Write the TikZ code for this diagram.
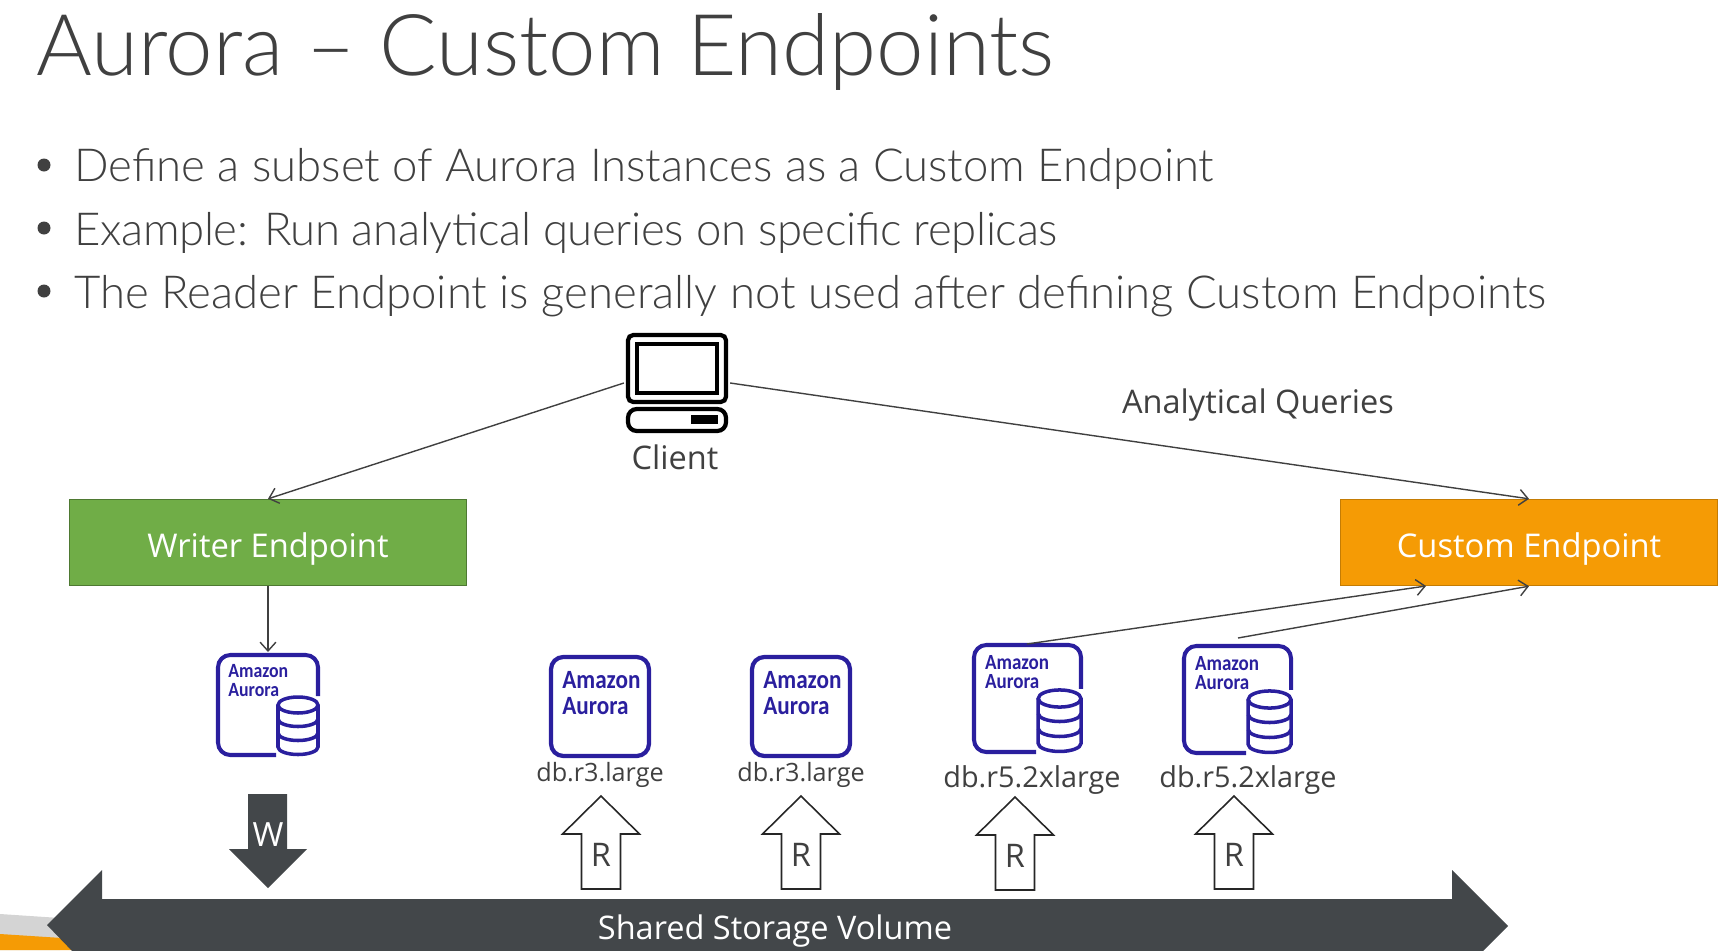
\documentclass[tikz,border=0pt]{standalone}
\usepackage{xcolor}
\usepackage{fontspec}
\usepackage{tikz}
\usetikzlibrary{arrows.meta}
\usetikzlibrary{calc}
\setmainfont{Open Sans}
\newfontfamily\titlefont{Lato Light}
\newfontfamily\iconfont[FakeStretch=0.88]{Carlito}
\definecolor{textgrey}{HTML}{404040}
\definecolor{darkslate}{HTML}{43474A}
\definecolor{writergreen}{HTML}{70AD47}
\definecolor{customorange}{HTML}{F59B05}
\definecolor{auroranavy}{HTML}{2A1F9E}
\tikzset{
    conn/.style={draw=textgrey, line width=0.8pt, -{Straight Barb[length=5pt,width=9pt]}},
    endpoint/.style={minimum height=87*0.5669pt, inner sep=0pt, text=white, text height=18.5pt, text depth=2pt, font=\fontsize{18.6}{22}\selectfont},
    dblabel/.style={anchor=base, text=textgrey, font=\fontsize{14.35}{17}\selectfont},
    dblabelbig/.style={anchor=base, text=textgrey, font=\fontsize{16.4}{19}\selectfont},
    sidelabel/.style={anchor=base, text=textgrey, font=\fontsize{18.5}{22}\selectfont},
    bullet/.style={anchor=base west, inner sep=0pt, text=textgrey, font=\titlefont\fontsize{25.9}{31}\selectfont},
    icontext/.style={anchor=north west, align=left, inner sep=0pt, text=auroranavy, transform shape, font=\iconfont\bfseries},
    pics/auroraplain/.style={code={
        \draw[auroranavy, line width=2.4pt, rounded corners=7pt] (0,0) rectangle (98,99);
        \node[icontext, font=\iconfont\bfseries\fontsize{15}{15}\selectfont] at (11,14) {Amazon\\Aurora};
    }},
    pics/aurorasmall/.style={code={
        \draw[auroranavy, line width=2.3pt, rounded corners=7pt] (58,100) -- (0,100) -- (0,0) -- (100,0) -- (100,41);
        \node[icontext, font=\iconfont\bfseries\fontsize{11.5}{10.6}\selectfont] at (10,9) {Amazon\\Aurora};
        % the little database
        \filldraw[fill=white, draw=auroranavy, line width=2pt] (60,50) -- (60,92) arc[start angle=180, end angle=0, x radius=20, y radius=7.5] -- (100,50);
        \filldraw[fill=white, draw=auroranavy, line width=2pt] (80,50) ellipse [x radius=20, y radius=8];
        \draw[auroranavy, line width=2pt] (60,64) arc[start angle=180, end angle=0, x radius=20, y radius=7.5];
        \draw[auroranavy, line width=2pt] (60,78) arc[start angle=180, end angle=0, x radius=20, y radius=7.5];
    }},
    pics/readarrow/.style={code={
        \draw[fill=white, draw=black!85, line width=0.9pt] (0,0) -- (38.5,38) -- (19.5,38) -- (19.5,93) -- (-19.5,93) -- (-19.5,38) -- (-38.5,38) -- cycle;
        \node[anchor=base, text=textgrey, font=\fontsize{18.5}{22}\selectfont] at (0,70) {R};
    }}
}

\begin{document}
\begin{tikzpicture}[x=0.02cm, y=-0.02cm]
    \useasboundingbox (0,0) rectangle (1723,950);
    \clip (0,0) rectangle (1723,950);

    % Title and bullets
    \node[anchor=base west, text=textgrey, font=\titlefont\fontsize{48.5}{56}\selectfont, inner sep=0pt] (title) at (36,75) {Aurora – Custom Endpoints};
    \fill[textgrey] (44,165) circle (6.5) (44,228) circle (6.5) (44,291) circle (6.5);
    \node[bullet] (lineone) at (74,181) {Define a subset of Aurora Instances as a Custom Endpoint};
    \node[bullet] (linetwo) at (74,245) {\addfontfeature{LetterSpace=-0.8}Example: Run analytical queries on specific replicas};
    \node[bullet] (linethree) at (74,308) {The Reader Endpoint is generally not used after defining Custom Endpoints};

    % Corner of the slide
    \fill[black!17] (0,914) -- (60,918) -- (60,950) -- (0,950) -- cycle;
    \fill[customorange] (0,934) -- (62,938) -- (80,950) -- (0,950) -- cycle;

    % Client
    \node[minimum width=106*0.5669pt, minimum height=98*0.5669pt, inner sep=0pt] (client) at (677,383) {};
    \draw[black, line width=2.4pt, rounded corners=3pt] (628,335) rectangle (726,402);
    \draw[black, line width=1.9pt] (637,344) rectangle (717,393);
    \draw[black, line width=2.4pt, rounded corners=5pt] (628,409) rectangle (726,431);
    \fill[black] (691,415) rectangle (718,424);
    \node[sidelabel] (clientlabel) at (675,469) {Client};
    \node[sidelabel] (querieslabel) at (1258,413) {Analytical Queries};

    % Endpoints
    \node[endpoint, minimum width=398*0.5669pt, fill=writergreen, draw=writergreen!70!black] (writer) at (268,542.5) {Writer Endpoint};
    \node[endpoint, minimum width=378*0.5669pt, fill=customorange, draw=customorange!80!black] (custom) at (1529,542.5) {Custom Endpoint};
    \coordinate (customin) at (1426,586);

    % Instances
    \pic at (218,655) {aurorasmall};
    \pic at (551,657) {auroraplain};
    \pic at (752,657) {auroraplain};
    \pic[scale=1.07] at (974,645) {aurorasmall};
    \pic[scale=1.07] at (1184,646) {aurorasmall};
    \coordinate (auroraw) at (268,652);
    \coordinate (aurorad) at (1027,644);
    \coordinate (aurorae) at (1238,638);
    \node[dblabel] (labela) at (600,781) {db.r3.large};
    \node[dblabel] (labelb) at (801,781) {db.r3.large};
    \node[dblabelbig] (labelc) at (1032,787) {db.r5.2xlarge};
    \node[dblabelbig] (labeld) at (1248,787) {db.r5.2xlarge};

    % Connectors
    \draw[conn] (client.west) -- (writer.north);
    \draw[conn] (client.east) -- (custom.north);
    \draw[conn] (writer.south) -- (auroraw);
    \draw[conn] (aurorad) -- (customin);
    \draw[conn] (aurorae) -- (custom.south);

    % Write and read arrows
    \fill[darkslate] (248,794) -- (287,794) -- (287,849) -- (307,849) -- (268,888) -- (229,849) -- (248,849) -- cycle;
    \node[anchor=base, text=white, font=\fontsize{19}{22}\selectfont] (writearrow) at (268,846) {W};
    \pic at (601,796) {readarrow};
    \pic at (801,796) {readarrow};
    \pic at (1015,797) {readarrow};
    \pic at (1234,796) {readarrow};

    % Storage volume
    \fill[darkslate] (47,925) -- (102,870) -- (102,899) -- (1452,899) -- (1452,870) -- (1508,926) -- (1452,982) -- (102,982) -- cycle;
    \node[anchor=base, text=white, font=\fontsize{18.5}{22}\selectfont] (storage) at (775,939) {Shared Storage Volume};
\end{tikzpicture}
\end{document}
